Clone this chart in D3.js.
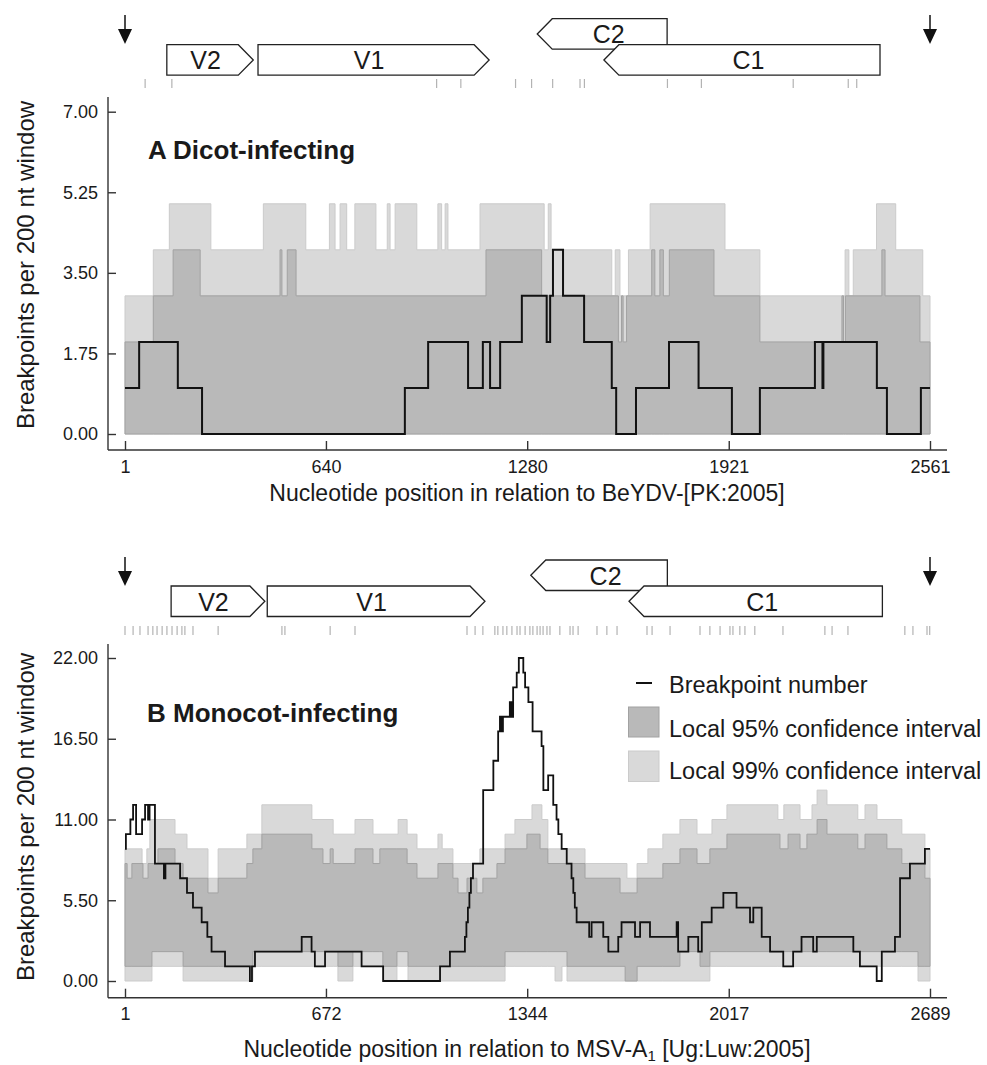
<!DOCTYPE html>
<html>
<head>
<meta charset="utf-8">
<script src="https://cdn.jsdelivr.net/npm/d3@7"></script>
<style>
  body { margin: 0; background: #fff; }
  svg text { font-family: "Liberation Sans", Arial, Helvetica, sans-serif; fill: #1a1a1a; }
</style>
</head>
<body>
<div id="chart"></div>
<script>
// ---- panel A : dicot-infecting (BeYDV) ----
var dicotLength = 2561;
var dicotTicksX = [1, 640, 1280, 1921, 2561];
var dicotTicksY = [0, 1.75, 3.5, 5.25, 7];

// [position, value] step series
var dicotCount = [[1,1],[46,2],[169,1],[246,0],[891,1],[965,2],[1092,1],[1139,2],[1162,1],[1194,2],[1263,3],
  [1342,2],[1353,3],[1362,4],[1394,3],[1461,2],[1549,1],[1563,0],[1626,1],[1731,2],[1825,1],[1931,0],[2020,1],
  [2195,2],[2219,1],[2222,2],[2392,1],[2424,0],[2532,1]];
var dicotUpper95 = [[1,2],[91,3],[154,4],[240,3],[494,4],[500,3],[517,4],[545,3],[1149,4],[1326,3],[1570,2],
  [1580,3],[1585,2],[1596,3],[1676,4],[1686,3],[1702,4],[1713,3],[1732,4],[1874,3],[2020,2],[2281,3],[2286,2],
  [2292,3],[2408,4],[2418,3],[2529,2]];
var dicotLower95 = [[1,0]];
var dicotUpper99 = [[1,3],[91,4],[142,5],[274,4],[441,5],[576,4],[651,5],[669,4],[685,5],[706,4],[732,5],[799,4],
  [835,5],[844,4],[860,5],[929,4],[996,5],[1008,4],[1019,5],[1028,4],[1130,5],[1334,4],[1347,5],[1356,4],[1549,3],
  [1560,4],[1575,3],[1602,4],[1671,5],[1909,4],[2020,3],[2291,4],[2303,3],[2317,4],[2391,5],[2452,4],[2538,3]];
var dicotLower99 = [[1,0]];
var dicotBreakpoints = [65, 150, 992, 1069, 1243, 1294, 1361, 1448, 1462, 1726, 1834, 2126, 2301, 2328];
var dicotGenes = [
  { name: "V2", from: 134, to: 409, strand: 1 },
  { name: "V1", from: 424, to: 1159, strand: 1 },
  { name: "C2", from: 1312, to: 1725, strand: -1 },
  { name: "C1", from: 1524, to: 2402, strand: -1 }
];

// ---- panel B : monocot-infecting (MSV) ----
var monoLength = 2689;
var monoTicksX = [1, 672, 1344, 2017, 2689];
var monoTicksY = [0, 5.5, 11, 16.5, 22];

var monoCount = [[1,9],[4,10],[19,11],[28,12],[38,10],[58,11],[68,12],[78,11],[83,12],[101,8],[131,7],[136,8],
  [185,7],[208,6],[228,5],[257,4],[276,3],[290,2],[335,1],[418,0],[425,1],[435,2],[591,3],[624,2],[635,1],[669,2],
  [791,1],[863,0],[1053,1],[1086,2],[1136,3],[1141,4],[1146,5],[1151,6],[1156,7],[1163,8],[1197,13],[1231,15],
  [1247,17],[1253,18],[1259,17],[1263,18],[1286,19],[1292,18],[1297,20],[1309,21],[1316,22],[1331,21],[1337,20],
  [1348,19],[1362,17],[1392,16],[1398,13],[1414,14],[1431,12],[1442,11],[1448,10],[1459,9],[1476,8],[1492,7],
  [1498,6],[1503,5],[1509,4],[1551,3],[1559,4],[1598,3],[1615,2],[1648,3],[1659,4],[1704,3],[1721,4],[1754,3],
  [1843,4],[1848,2],[1882,3],[1915,2],[1927,4],[1960,5],[1999,6],[2043,5],[2088,4],[2099,5],[2127,3],[2155,2],
  [2199,1],[2232,2],[2260,3],[2299,2],[2311,3],[2433,2],[2455,1],[2511,0],[2528,2],[2572,3],[2589,7],[2622,8],
  [2672,9]];
var monoUpper95 = [[1,8],[8,7],[24,8],[61,7],[78,8],[111,9],[168,8],[195,7],[278,6],[312,7],[408,8],[428,9],
  [458,10],[625,9],[662,8],[686,9],[696,8],[769,9],[829,8],[852,9],[943,8],[976,7],[1046,8],[1096,7],[1113,6],
  [1143,7],[1176,6],[1196,7],[1243,8],[1270,9],[1343,10],[1387,9],[1413,8],[1537,7],[1654,6],[1711,7],[1797,8],
  [1854,9],[1911,8],[1954,9],[2011,10],[2188,9],[2215,10],[2255,9],[2278,10],[2312,11],[2345,10],[2448,9],
  [2472,10],[2545,9],[2595,8],[2672,7]];
var monoLower95 = [[1,1],[91,2],[195,1],[428,2],[712,1],[762,2],[862,1],[909,2],[946,1],[1270,2],[1477,1],
  [1671,0],[1711,1],[1854,2],[1921,1],[1954,2],[2649,1]];
var monoUpper99 = [[1,9],[58,8],[74,9],[84,11],[168,10],[208,9],[278,7],[312,9],[408,10],[458,12],[625,11],
  [696,10],[769,11],[829,10],[913,11],[943,10],[976,9],[1046,10],[1060,9],[1096,8],[1186,9],[1270,10],[1303,11],
  [1360,12],[1393,11],[1413,9],[1537,8],[1677,7],[1711,8],[1747,9],[1797,10],[1854,11],[1911,10],[1961,11],
  [2011,12],[2181,11],[2201,12],[2255,11],[2295,12],[2312,13],[2345,12],[2448,11],[2472,12],[2512,11],[2595,10],
  [2672,9]];
var monoLower99 = [[1,0],[91,1],[195,0],[428,1],[712,0],[762,1],[862,0],[909,1],[946,0],[1270,1],[1437,0],
  [1460,1],[1477,0],[1954,1],[2649,0]];
var monoBreakpoints = [1, 28, 51, 78, 94, 108, 125, 141, 158, 175, 191, 201, 228, 312, 525, 535, 686, 769, 1143,
  1170, 1196, 1236, 1246, 1263, 1276, 1293, 1310, 1320, 1337, 1353, 1363, 1377, 1387, 1397, 1410, 1420, 1453,
  1487, 1497, 1514, 1577, 1610, 1644, 1744, 1761, 1821, 1921, 1954, 1988, 2021, 2031, 2054, 2071, 2104, 2198,
  2338, 2362, 2415, 2605, 2632, 2679, 2688];
var monoGenes = [
  { name: "V2", from: 155, to: 468, strand: 1 },
  { name: "V1", from: 476, to: 1203, strand: 1 },
  { name: "C2", from: 1356, to: 1812, strand: -1 },
  { name: "C1", from: 1684, to: 2530, strand: -1 }
];

var legendLabels = ["Breakpoint number", "Local 95% confidence interval", "Local 99% confidence interval"];

// ---- drawing ----
var colors = {
  ci95: "#b9b9b9", ci95Edge: "#a2a2a2",
  ci99: "#d9d9d9", ci99Edge: "#cbcbcb",
  line: "#111111", axis: "#333333", tick: "#b3b3b3"
};
var upperRow = ["C2"];

var svg = d3.select("#chart").append("svg")
  .attr("width", 987)
  .attr("height", 1065);

function stepValue(series, pos) {
  var v = series[0][1];
  for (var i = 0; i < series.length; i++) {
    if (series[i][0] <= pos) v = series[i][1];
    else break;
  }
  return v;
}

// merge a lower and an upper step series into one band
function mergeBand(lower, upper, end) {
  var pos = Array.from(new Set(lower.map(function (d) { return d[0]; })
    .concat(upper.map(function (d) { return d[0]; })))).sort(function (a, b) { return a - b; });
  var rows = pos.map(function (p) { return { pos: p, lo: stepValue(lower, p), hi: stepValue(upper, p) }; });
  rows.push({ pos: end, lo: stepValue(lower, end), hi: stepValue(upper, end) });
  return rows;
}

function drawPanel(p) {
  var x = d3.scaleLinear().domain([1, p.length]).range([125, 930]);
  var y = d3.scaleLinear().domain([0, p.yTicks[p.yTicks.length - 1]]).range(p.yRange);
  var g = svg.append("g");

  // confidence bands
  var area = d3.area().curve(d3.curveStepAfter)
    .x(function (d) { return x(d.pos); })
    .y0(function (d) { return y(d.lo); })
    .y1(function (d) { return y(d.hi); });
  g.append("path").datum(mergeBand(p.lower99, p.upper99, p.length))
    .attr("d", area).attr("fill", colors.ci99).attr("stroke", colors.ci99Edge).attr("stroke-width", 1);
  g.append("path").datum(mergeBand(p.lower95, p.upper95, p.length))
    .attr("d", area).attr("fill", colors.ci95).attr("stroke", colors.ci95Edge).attr("stroke-width", 1);

  // breakpoint number
  var countData = p.count.concat([[p.length, p.count[p.count.length - 1][1]]]);
  g.append("path").datum(countData)
    .attr("d", d3.line().curve(d3.curveStepAfter)
      .x(function (d) { return x(d[0]); })
      .y(function (d) { return y(d[1]); }))
    .attr("fill", "none")
    .attr("stroke", colors.line)
    .attr("stroke-width", p.lineWidth);

  // axes
  var yAxis = g.append("g").attr("transform", "translate(108,0)")
    .call(d3.axisLeft(y).tickValues(p.yTicks).tickFormat(d3.format(".2f")).tickSize(-8).tickPadding(10));
  var xAxis = g.append("g").attr("transform", "translate(0," + p.axisY + ")")
    .call(d3.axisBottom(x).tickValues(p.xTicks).tickFormat(d3.format("d")).tickSize(-9).tickPadding(10));
  [yAxis, xAxis].forEach(function (ax) {
    ax.select(".domain").remove();
    ax.selectAll(".tick line").attr("stroke", colors.axis).attr("stroke-width", 1.4);
    ax.selectAll(".tick text").attr("font-size", 18).attr("fill", "#1a1a1a")
      .style("font-family", "'Liberation Sans', Arial, sans-serif");
  });
  g.append("line").attr("x1", 108).attr("x2", 108).attr("y1", p.axisTop).attr("y2", p.axisY)
    .attr("stroke", colors.axis).attr("stroke-width", 1.4);
  g.append("line").attr("x1", 108).attr("x2", 947).attr("y1", p.axisY).attr("y2", p.axisY)
    .attr("stroke", colors.axis).attr("stroke-width", 1.4);

  // axis titles
  g.append("text")
    .attr("transform", "translate(34," + p.yTitleY + ")rotate(-90)")
    .attr("text-anchor", "middle").attr("font-size", 24)
    .text("Breakpoints per 200 nt window");
  var xt = g.append("text").attr("x", 527).attr("y", p.titleY)
    .attr("text-anchor", "middle").attr("font-size", 23);
  xt.append("tspan").text(p.xTitle[0]);
  if (p.xTitle.length > 1) {
    xt.append("tspan").attr("font-size", 15).attr("dy", 4).text(p.xTitle[1]);
    xt.append("tspan").attr("dy", -4).text(p.xTitle[2]);
  }

  // panel label
  g.append("text").attr("x", p.labelX).attr("y", p.labelY)
    .attr("font-size", 26).attr("font-weight", "bold").text(p.label);

  // breakpoint positions
  g.selectAll(".bp").data(p.breakpoints).enter().append("line")
    .attr("x1", function (d) { return x(d); })
    .attr("x2", function (d) { return x(d); })
    .attr("y1", p.bpY).attr("y2", p.bpY + 9)
    .attr("stroke", colors.tick).attr("stroke-width", 1.2);

  // genome ends
  [1, p.length].forEach(function (pos) {
    var cx = x(pos);
    g.append("line").attr("x1", cx).attr("x2", cx).attr("y1", p.arrowTop).attr("y2", p.arrowTop + 16)
      .attr("stroke", "#111").attr("stroke-width", 1.5);
    g.append("path")
      .attr("d", "M" + (cx - 7) + "," + (p.arrowTop + 14) + "L" + (cx + 7) + "," + (p.arrowTop + 14) +
        "L" + cx + "," + (p.arrowTop + 29) + "Z")
      .attr("fill", "#111");
  });

  // genes
  var head = 15, h = 30.5;
  var genes = p.genes.slice().sort(function (a, b) {
    return (upperRow.indexOf(b.name) >= 0) - (upperRow.indexOf(a.name) >= 0);
  });
  genes.forEach(function (gene) {
    var top = upperRow.indexOf(gene.name) >= 0 ? p.geneY - 26 : p.geneY;
    var a = x(gene.from), b = x(gene.to), mid = top + h / 2, path, cx;
    if (gene.strand > 0) {
      path = "M" + a + "," + top + "H" + (b - head) + "L" + b + "," + mid + "L" + (b - head) + "," + (top + h) +
        "H" + a + "Z";
      cx = (a + b - head) / 2 + 3;
    } else {
      path = "M" + a + "," + mid + "L" + (a + head) + "," + top + "H" + b + "V" + (top + h) +
        "H" + (a + head) + "Z";
      cx = (a + head + b) / 2 - 1;
    }
    g.append("path").attr("d", path).attr("fill", "#fff").attr("stroke", "#222").attr("stroke-width", 1.3);
    g.append("text").attr("x", cx).attr("y", mid).attr("dy", "0.37em")
      .attr("text-anchor", "middle").attr("font-size", 25).text(gene.name);
  });

  // legend
  if (p.legend) {
    var lg = g.append("g");
    lg.append("line").attr("x1", 636).attr("x2", 652).attr("y1", 683).attr("y2", 683)
      .attr("stroke", colors.line).attr("stroke-width", 2);
    lg.append("rect").attr("x", 628.5).attr("y", 707).attr("width", 30.5).attr("height", 30)
      .attr("fill", colors.ci95).attr("stroke", colors.ci95Edge).attr("stroke-width", 1);
    lg.append("rect").attr("x", 628.5).attr("y", 751).attr("width", 30.5).attr("height", 30.5)
      .attr("fill", colors.ci99).attr("stroke", colors.ci99Edge).attr("stroke-width", 1);
    [693, 737, 779].forEach(function (ty, i) {
      lg.append("text").attr("x", 669).attr("y", ty).attr("font-size", 23.5).text(legendLabels[i]);
    });
  }
}

drawPanel({
  length: dicotLength, xTicks: dicotTicksX, yTicks: dicotTicksY,
  count: dicotCount, upper95: dicotUpper95, lower95: dicotLower95,
  upper99: dicotUpper99, lower99: dicotLower99,
  breakpoints: dicotBreakpoints, genes: dicotGenes,
  label: "A Dicot-infecting", xTitle: ["Nucleotide position in relation to BeYDV-[PK:2005]"],
  yRange: [434, 111.7], axisTop: 97, axisY: 450, geneY: 44.7, arrowTop: 15, bpY: 79,
  labelX: 148, labelY: 159, titleY: 501, yTitleY: 265, lineWidth: 2, legend: false
});

drawPanel({
  length: monoLength, xTicks: monoTicksX, yTicks: monoTicksY,
  count: monoCount, upper95: monoUpper95, lower95: monoLower95,
  upper99: monoUpper99, lower99: monoLower99,
  breakpoints: monoBreakpoints, genes: monoGenes,
  label: "B Monocot-infecting", xTitle: ["Nucleotide position in relation to MSV-A", "1", " [Ug:Luw:2005]"],
  yRange: [981, 658], axisTop: 644, axisY: 997.7, geneY: 586, arrowTop: 557, bpY: 626,
  labelX: 147, labelY: 722, titleY: 1057, yTitleY: 817, lineWidth: 1.8, legend: true
});
</script>
</body>
</html>
